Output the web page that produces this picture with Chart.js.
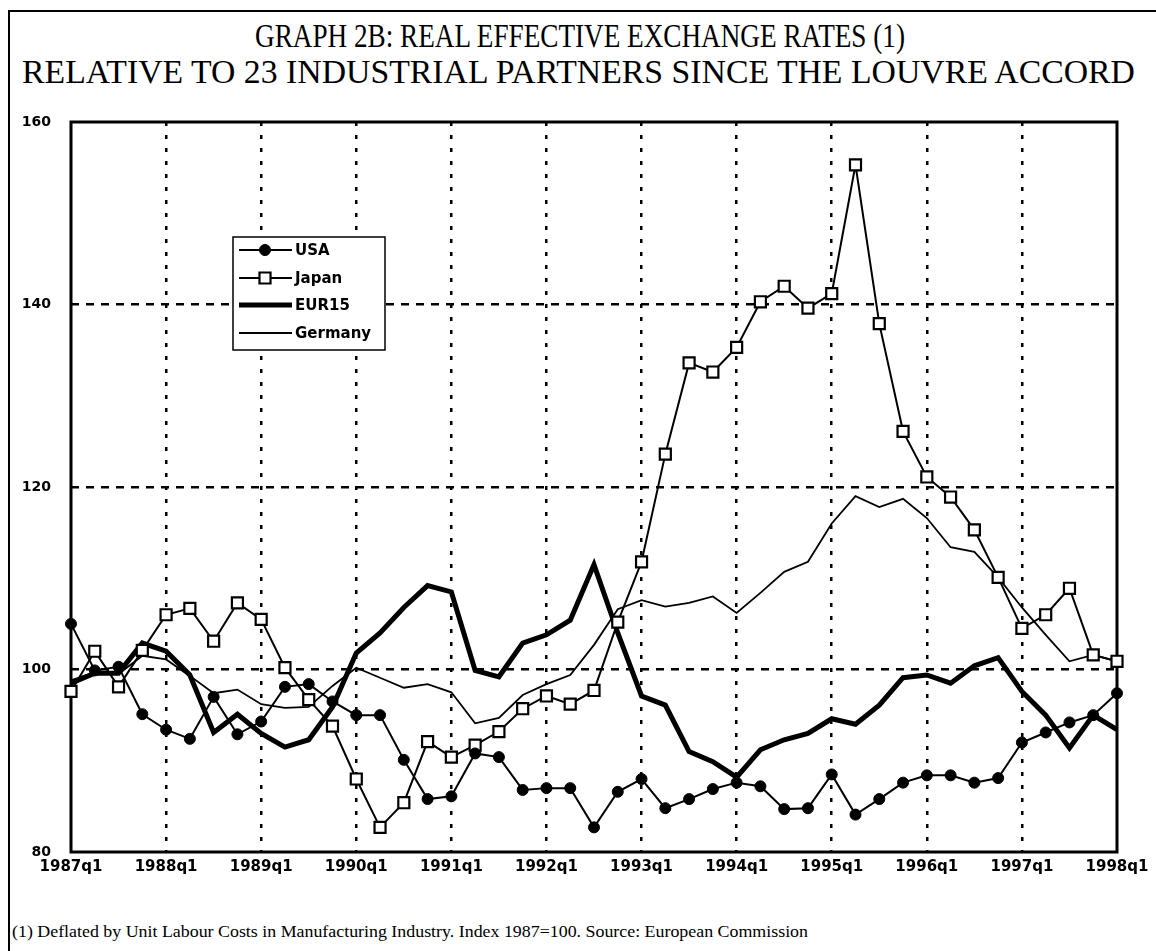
<!DOCTYPE html>
<html><head><meta charset="utf-8">
<script src="https://cdn.jsdelivr.net/npm/chart.js@4.4.1/dist/chart.umd.min.js"></script>
<style>
html,body{margin:0;padding:0;background:#fff;width:1156px;height:951px;overflow:hidden;position:relative;}
#frame{position:absolute;left:8px;top:10px;width:1200px;height:1000px;border-left:2px solid #000;border-top:2px solid #000;}
.t{position:absolute;white-space:nowrap;font-family:"Liberation Serif","Times New Roman",serif;color:#000;transform-origin:0 0;line-height:1;}
#wrap{position:absolute;left:0;top:0;width:1156px;height:951px;}
</style></head><body>
<div id="frame"></div>
<div id="t1" class="t" style="font-size:33px;">GRAPH 2B: REAL EFFECTIVE EXCHANGE RATES (1)</div>
<div id="t2" class="t" style="font-size:33px;">RELATIVE TO 23 INDUSTRIAL PARTNERS SINCE THE LOUVRE ACCORD</div>
<div id="fn" class="t" style="font-size:17px;">(1) Deflated by Unit Labour Costs in Manufacturing Industry. Index 1987=100. Source: European Commission</div>
<div id="wrap"><canvas id="c" width="1156" height="951"></canvas></div>
<script>
const quarters = [
 '1987q1','1987q2','1987q3','1987q4','1988q1','1988q2','1988q3','1988q4',
 '1989q1','1989q2','1989q3','1989q4','1990q1','1990q2','1990q3','1990q4',
 '1991q1','1991q2','1991q3','1991q4','1992q1','1992q2','1992q3','1992q4',
 '1993q1','1993q2','1993q3','1993q4','1994q1','1994q2','1994q3','1994q4',
 '1995q1','1995q2','1995q3','1995q4','1996q1','1996q2','1996q3','1996q4',
 '1997q1','1997q2','1997q3','1997q4','1998q1'];
const xTickLabels = ['1987q1','1988q1','1989q1','1990q1','1991q1','1992q1','1993q1','1994q1','1995q1','1996q1','1997q1','1998q1'];
const yTicks = [80,100,120,140,160];
const usa = [105.0,99.9,100.3,95.1,93.4,92.4,97.0,92.9,94.3,98.1,98.4,96.5,95.0,95.0,90.1,85.8,86.1,90.8,90.4,86.8,87.0,87.0,82.7,86.6,88.0,84.8,85.8,86.9,87.6,87.2,84.7,84.8,88.5,84.1,85.8,87.6,88.4,88.4,87.6,88.1,92.0,93.1,94.2,95.0,97.4];
const japan = [97.6,102.0,98.1,102.1,106.0,106.7,103.1,107.3,105.5,100.2,96.7,93.8,88.0,82.7,85.4,92.1,90.4,91.7,93.2,95.7,97.1,96.2,97.7,105.2,111.8,123.6,133.6,132.6,135.3,140.3,142.0,139.6,141.2,155.3,137.9,126.1,121.1,118.9,115.3,110.1,104.5,106.0,108.9,101.6,100.9];
const eur15 = [98.5,99.6,99.6,102.9,102.0,99.4,93.1,95.1,93.0,91.5,92.3,95.9,101.8,104.0,106.8,109.2,108.5,99.9,99.2,102.9,103.8,105.4,111.5,104.0,97.1,96.1,91.0,89.9,88.2,91.2,92.3,93.0,94.6,94.0,96.1,99.1,99.4,98.5,100.4,101.3,97.6,95.0,91.4,95.0,93.4];
const germany = [98.8,99.7,99.5,101.5,101.1,99.3,97.4,97.8,96.2,95.8,95.9,98.2,100.2,99.1,98.0,98.4,97.5,94.1,94.7,97.2,98.4,99.4,102.7,106.6,107.6,106.9,107.3,108.0,106.2,108.4,110.7,111.8,116.0,119.0,117.8,118.7,116.6,113.4,112.9,110.1,106.8,103.8,100.9,101.6,100.9];

const SANS = '"DejaVu Sans", Arial, sans-serif';

function fitLine(id, left, width, baseline, fs){
  const el = document.getElementById(id);
  const w = el.getBoundingClientRect().width;
  el.style.left = left + 'px';
  el.style.top = (baseline - fs*0.87) + 'px';
  el.style.transform = 'scaleX(' + (width / w) + ')';
}
fitLine('t1', 255, 650, 49, 33);
fitLine('t2', 22, 1113, 85, 33);
fitLine('fn', 12, 796, 938, 17);

const frameAndLegend = {
  id: 'frameAndLegend',
  beforeDatasetsDraw(chart){
    const {ctx, chartArea:a} = chart;
    ctx.save();
    ctx.strokeStyle = '#000'; ctx.lineWidth = 3;
    ctx.strokeRect(a.left, a.top, a.right - a.left, a.bottom - a.top);
    ctx.restore();
  },
  afterDraw(chart){
    const ctx = chart.ctx;
    const bx = 233, by = 237, bw = 152, bh = 113;
    ctx.save();
    ctx.fillStyle = '#fff'; ctx.fillRect(bx, by, bw, bh);
    ctx.strokeStyle = '#000'; ctx.lineWidth = 1.5; ctx.strokeRect(bx, by, bw, bh);
    ctx.font = 'bold 15px ' + SANS;
    ctx.textBaseline = 'middle'; ctx.fillStyle = '#000';
    const rows = [250, 278, 305, 333];
    chart.data.datasets.forEach((ds, i) => {
      const y = rows[i];
      ctx.strokeStyle = '#000';
      ctx.lineWidth = ds.borderWidth;
      ctx.beginPath(); ctx.moveTo(239, y); ctx.lineTo(292, y); ctx.stroke();
      if (ds.pointRadius > 0) {
        ctx.fillStyle = ds.pointBackgroundColor;
        ctx.strokeStyle = '#000';
        ctx.lineWidth = ds.pointBorderWidth;
        ctx.beginPath();
        if (ds.pointStyle === 'rect') {
          const s = ds.pointRadius * Math.SQRT1_2;
          ctx.rect(265 - s, y - s, 2*s, 2*s);
        } else {
          ctx.arc(265, y, ds.pointRadius, 0, Math.PI*2);
        }
        ctx.fill(); ctx.stroke();
      }
      ctx.fillStyle = '#000';
      ctx.fillText(ds.label, 295, y + 1);
    });
    ctx.restore();
  }
};

new Chart(document.getElementById('c'), {
  type: 'line',
  data: {
    labels: quarters,
    datasets: [
      {label:'USA', data: usa, borderColor:'#000', borderWidth:2, pointStyle:'circle', pointRadius:5.5, pointBackgroundColor:'#000', pointBorderColor:'#000', pointBorderWidth:1, tension:0, clip:false},
      {label:'Japan', data: japan, borderColor:'#000', borderWidth:2, pointStyle:'rect', pointRadius:7.8, pointBackgroundColor:'#fff', pointBorderColor:'#000', pointBorderWidth:2.2, tension:0, clip:false},
      {label:'EUR15', data: eur15, borderColor:'#000', borderWidth:5, pointRadius:0, tension:0, clip:false},
      {label:'Germany', data: germany, borderColor:'#000', borderWidth:1.8, pointRadius:0, tension:0, clip:false}
    ]
  },
  options: {
    responsive: false,
    animation: false,
    events: [],
    layout: {padding: {left: 0, top: 122, right: 39, bottom: 0}},
    plugins: {legend: {display:false}, tooltip: {enabled:false}, title: {display:false}},
    scales: {
      x: {
        type: 'category',
        offset: false,
        afterFit(s){ s.height = 99; },
        grid: {
          drawTicks: false,
          lineWidth: 2.5,
          color: (c) => { const lab = quarters[c.index]; return (lab && lab.endsWith('q1') && c.index > 0 && c.index < quarters.length - 1) ? '#000' : 'rgba(0,0,0,0)'; }
        },
        border: {display:false, dash:[4,9]},
        ticks: {
          autoSkip: false, maxRotation: 0, minRotation: 0, padding: 6,
          color: '#000',
          font: {family: SANS, size: 15, weight: 'bold'},
          callback: (v, i) => xTickLabels.includes(quarters[i]) ? quarters[i] : ''
        }
      },
      y: {
        min: 80, max: 160,
        afterFit(s){ s.width = 71; },
        afterBuildTicks(s){ s.ticks = yTicks.map(v => ({value: v})); },
        grid: {
          drawTicks: false,
          lineWidth: 2.5,
          color: (c) => (c.tick && c.tick.value > 80 && c.tick.value < 160) ? '#000' : 'rgba(0,0,0,0)'
        },
        border: {display:false, dash:[8,7]},
        ticks: {
          padding: 20, color: '#000',
          font: {family: SANS, size: 14, weight: 'bold'}
        }
      }
    }
  },
  plugins: [frameAndLegend]
});
</script>
</body></html>
